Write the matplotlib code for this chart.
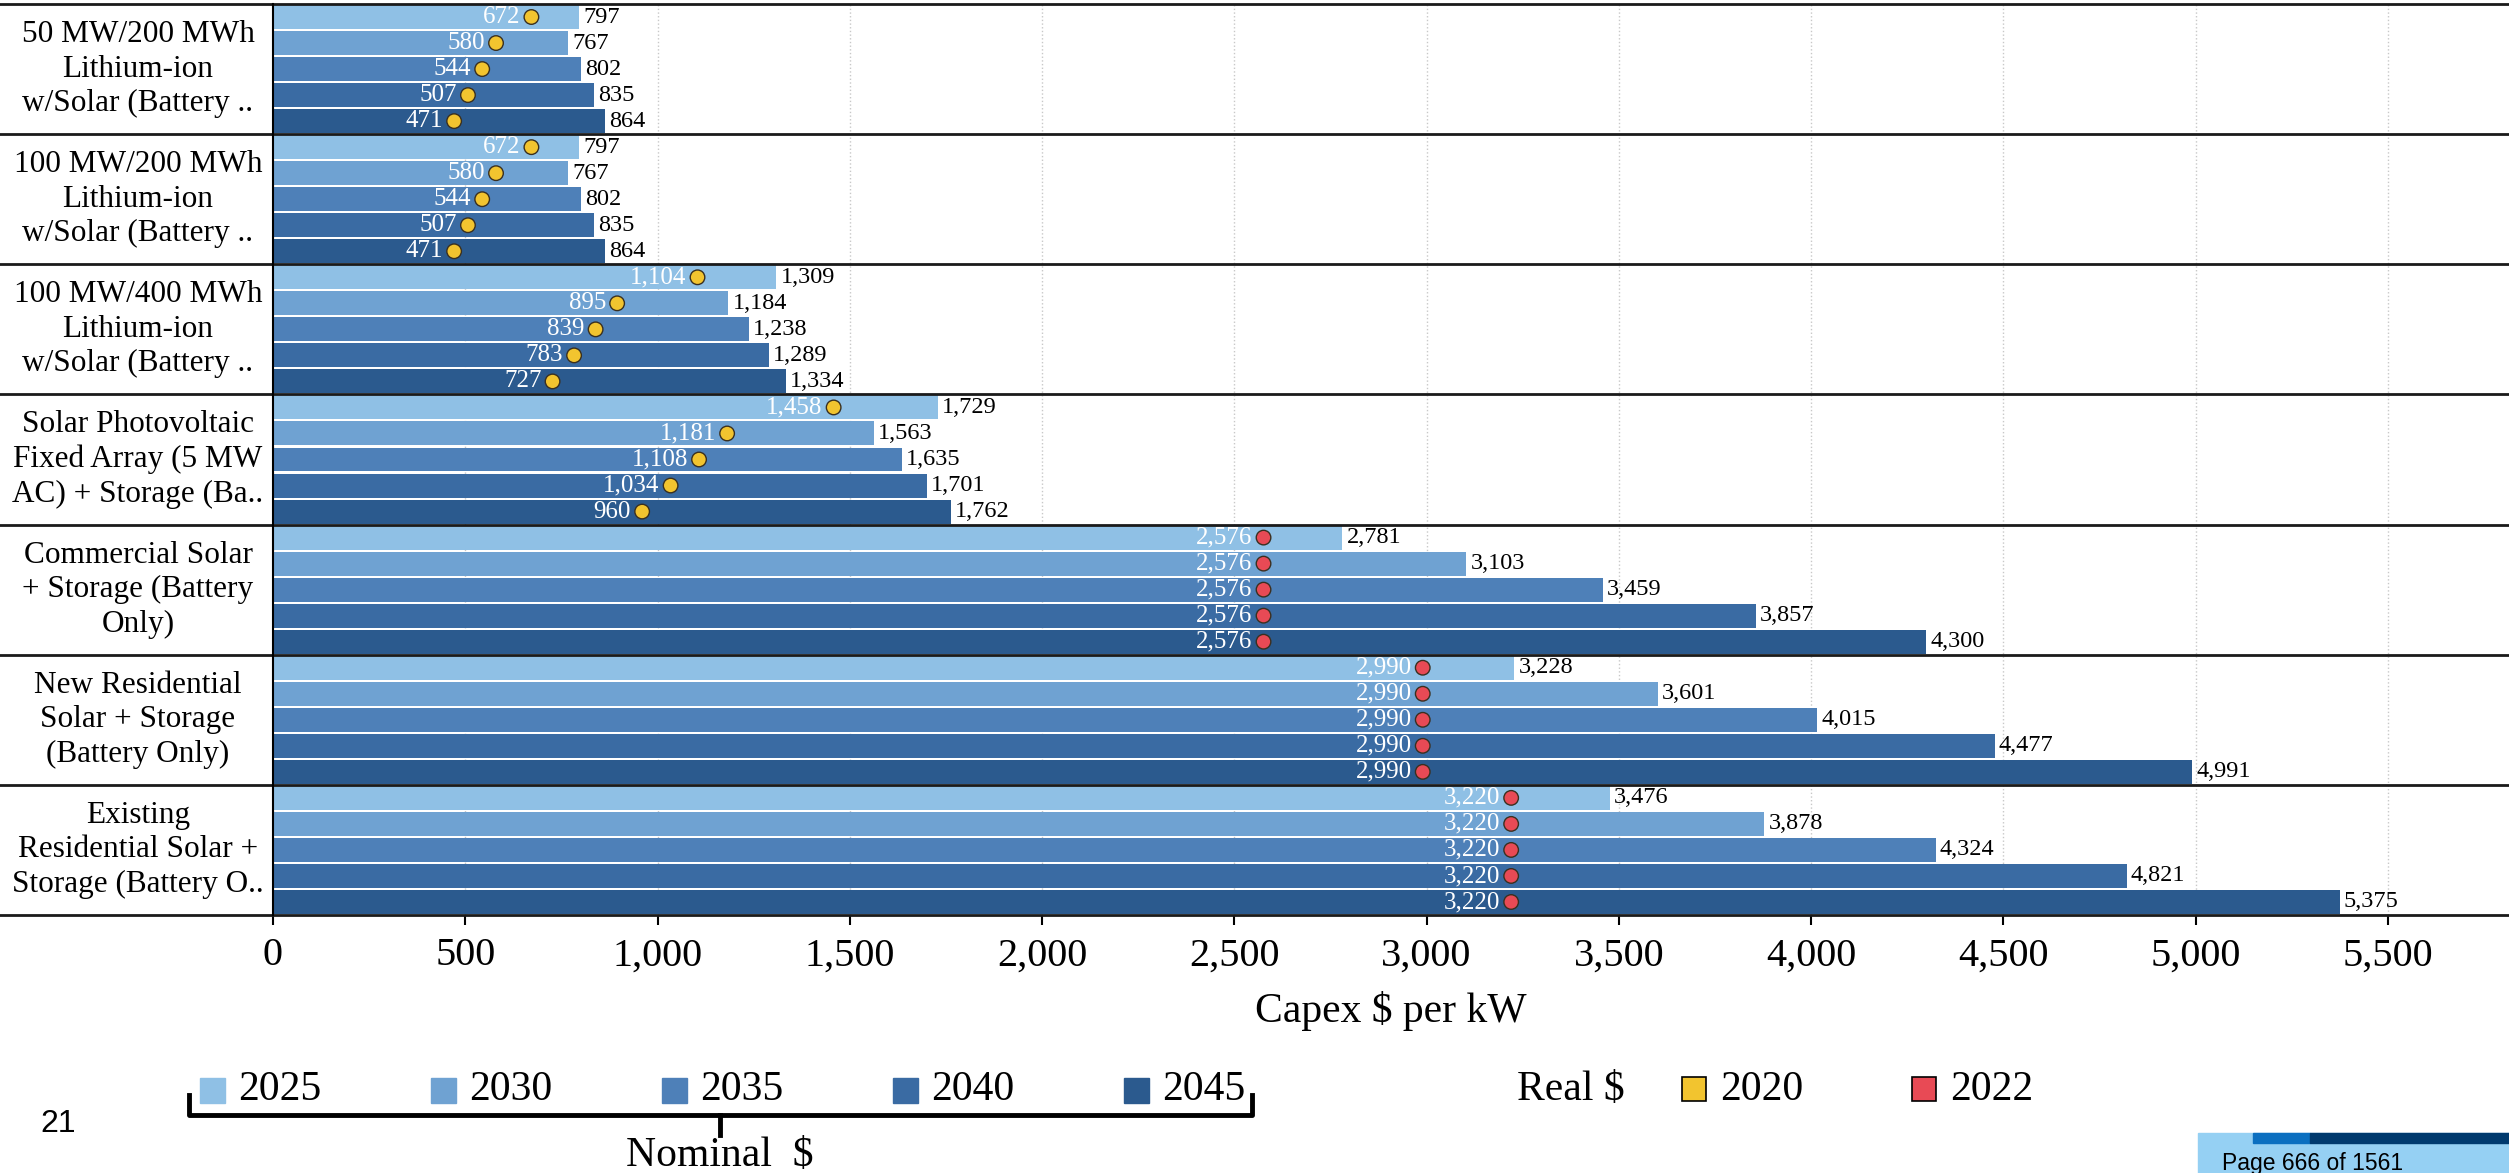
import numpy as np
import matplotlib
matplotlib.use('Agg')
import matplotlib.pyplot as plt
from matplotlib import transforms
from matplotlib.lines import Line2D
from matplotlib.patches import Rectangle
from matplotlib.ticker import FuncFormatter

plt.rcParams['font.family'] = ['Liberation Serif', 'DejaVu Serif']

# categories (top to bottom) and series
categories = [
    '50 MW/200 MWh\nLithium-ion\nw/Solar (Battery ..',
    '100 MW/200 MWh\nLithium-ion\nw/Solar (Battery ..',
    '100 MW/400 MWh\nLithium-ion\nw/Solar (Battery ..',
    'Solar Photovoltaic\nFixed Array (5 MW\nAC) + Storage (Ba..',
    'Commercial Solar\n+ Storage (Battery\nOnly)',
    'New Residential\nSolar + Storage\n(Battery Only)',
    'Existing\nResidential Solar +\nStorage (Battery O..',
]
years = ['2025', '2030', '2035', '2040', '2045']
real_basis = ['2020', '2020', '2020', '2020', '2022', '2022', '2022']

# nominal $ per kW
nominal_2025 = [797, 797, 1309, 1729, 2781, 3228, 3476]
nominal_2030 = [767, 767, 1184, 1563, 3103, 3601, 3878]
nominal_2035 = [802, 802, 1238, 1635, 3459, 4015, 4324]
nominal_2040 = [835, 835, 1289, 1701, 3857, 4477, 4821]
nominal_2045 = [864, 864, 1334, 1762, 4300, 4991, 5375]

# real $ per kW (2020 $ or 2022 $)
real_2025 = [672, 672, 1104, 1458, 2576, 2990, 3220]
real_2030 = [580, 580, 895, 1181, 2576, 2990, 3220]
real_2035 = [544, 544, 839, 1108, 2576, 2990, 3220]
real_2040 = [507, 507, 783, 1034, 2576, 2990, 3220]
real_2045 = [471, 471, 727, 960, 2576, 2990, 3220]

nominal = [nominal_2025, nominal_2030, nominal_2035, nominal_2040, nominal_2045]
real = [real_2025, real_2030, real_2035, real_2040, real_2045]

bar_colors = ['#8fc0e5', '#6fa2d2', '#4e80b8', '#3a6ba3', '#2b5a8e']
dot_colors = {'2020': '#f2c42f', '2022': '#e84a55'}

W, H = 2509, 1173
fig = plt.figure(figsize=(W / 100, H / 100), dpi=100)


def fx(x):
    return x / W


def fy(y):
    return 1 - y / H


ax = fig.add_axes([fx(273), fy(915), 1 - fx(273), (915 - 4) / H])

n = len(categories)
base = np.arange(n) * 5
for k, yr in enumerate(years):
    y = base + k
    ax.barh(y, nominal[k], height=0.92, color=bar_colors[k], zorder=2)
    for i in range(n):
        ax.annotate(f'{nominal[k][i]:,}', (nominal[k][i], y[i]), xytext=(3, 0),
                    textcoords='offset points', ha='left', va='center', fontsize=17.5)
        ax.annotate(f'{real[k][i]:,}', (real[k][i], y[i]), xytext=(-8, 0),
                    textcoords='offset points', ha='right', va='center',
                    fontsize=18, color='white', zorder=5)
    ax.scatter(real[k], y, s=110, c=[dot_colors[b] for b in real_basis],
               edgecolors='#3a3020', linewidths=1, zorder=4)

ax.set_xlim(0, 5815)
ax.set_ylim(n * 5 - 0.5, -0.5)
ax.set_xticks(np.arange(0, 5501, 500))
ax.xaxis.set_major_formatter(FuncFormatter(lambda v, p: f'{int(v):,}'))
ax.tick_params(axis='x', labelsize=29, length=7, width=1.5, pad=9)
ax.set_yticks([])
ax.set_axisbelow(True)
ax.xaxis.grid(True, linestyle=':', color='#c8c8c8', lw=1)
for s in ['top', 'right', 'bottom']:
    ax.spines[s].set_visible(False)
ax.spines['left'].set_linewidth(1.5)
ax.set_xlabel('Capex $ per kW', fontsize=30, labelpad=12)

# group separators across full width + category labels
blend = transforms.blended_transform_factory(fig.transFigure, ax.transData)
for b in np.arange(n + 1) * 5 - 0.5:
    ax.add_line(Line2D([0, 1], [b, b], transform=blend, color='#1a1a1a',
                       lw=2, clip_on=False))
for i, cat in enumerate(categories):
    ax.text(fx(138), base[i] + 2, cat, transform=blend, ha='center', va='center',
            fontsize=22.5, linespacing=1.25)

# legend: nominal years
for i, yr in enumerate(years):
    x0 = 200 + i * 231
    fig.patches.append(Rectangle((fx(x0), fy(1103)), 25 / W, 25 / H,
                                 transform=fig.transFigure, color=bar_colors[i]))
    fig.text(fx(x0 + 38), fy(1090), yr, fontsize=30, va='center')

# bracket under nominal legend
for xs, ys in [([189, 189, 1252, 1252], [1095, 1115, 1115, 1095]),
               ([720, 720], [1115, 1135])]:
    fig.add_artist(Line2D([fx(v) for v in xs], [fy(v) for v in ys],
                          color='black', lw=3.5, solid_joinstyle='round'))
fig.text(fx(720), fy(1156), 'Nominal  $', fontsize=30, ha='center', va='center')

# legend: real $
fig.text(fx(1517), fy(1090), 'Real $', fontsize=30, va='center')
for x0, key in [(1682, '2020'), (1912, '2022')]:
    fig.patches.append(Rectangle((fx(x0), fy(1101)), 24 / W, 24 / H,
                                 transform=fig.transFigure, facecolor=dot_colors[key],
                                 edgecolor='black', lw=1.2))
    fig.text(fx(x0 + 38), fy(1090), key, fontsize=30, va='center')

# page furniture
fig.text(fx(58), fy(1124), '21', fontsize=23, ha='center', va='center',
         family=['Liberation Sans Narrow', 'Liberation Sans'])
fig.patches.append(Rectangle((fx(2198), 0), 1 - fx(2198), (H - 1133) / H,
                             transform=fig.transFigure, color='#95d0f3'))
fig.patches.append(Rectangle((fx(2253), fy(1143)), fx(57), 10 / H,
                             transform=fig.transFigure, color='#0b6fc0'))
fig.patches.append(Rectangle((fx(2310), fy(1143)), 1 - fx(2310), 10 / H,
                             transform=fig.transFigure, color='#003a6e'))
fig.text(fx(2222), fy(1170), 'Page 666 of 1561', fontsize=16.5, va='baseline',
         family=['Liberation Sans'])

fig.savefig('out.png', dpi=100)
